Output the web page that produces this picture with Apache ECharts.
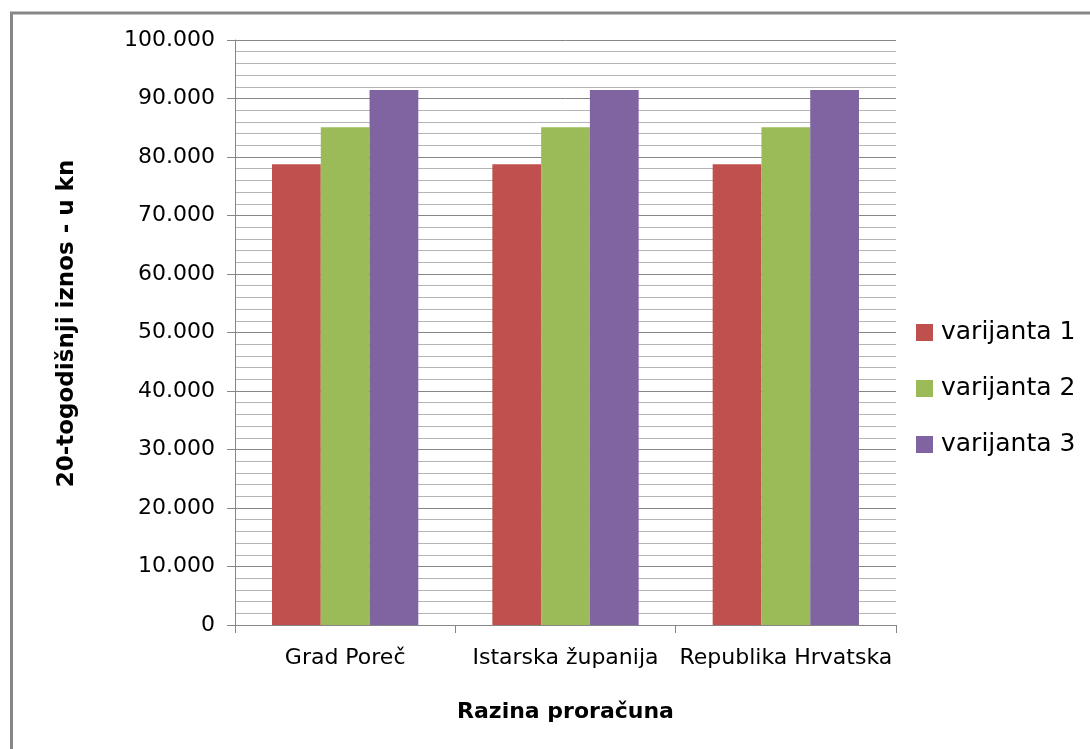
<!DOCTYPE html>
<html>
<head>
<meta charset="utf-8">
<script src="https://cdn.jsdelivr.net/npm/echarts@6/dist/echarts.min.js"></script>
<style>html,body{margin:0;padding:0;background:#fff;}#c{width:1090px;height:749px;}</style>
</head>
<body>
<div id="c"></div>
<script>
const categories = ['Grad Poreč', 'Istarska županija', 'Republika Hrvatska'];
const seriesNames = ['varijanta 1', 'varijanta 2', 'varijanta 3'];
const varijanta1 = [78750, 78750, 78750];
const varijanta2 = [85100, 85100, 85100];
const varijanta3 = [91450, 91450, 91450];
const colors = ['#C0504D', '#9BBB59', '#8064A2'];

const chart = echarts.init(document.getElementById('c'), null, {renderer: 'canvas'});
const fmt = v => v === 0 ? '0' : v.toString().replace(/\B(?=(\d{3})+(?!\d))/g, '.');
const font = 'DejaVu Sans';
chart.setOption({
  backgroundColor: '#fff',
  animation: false,
  graphic: [{
    type: 'rect', left: 9, top: 10.5,
    shape: {x: 0, y: 0, width: 1200, height: 900},
    style: {fill: 'none', stroke: '#878787', lineWidth: 3}
  }],
  grid: {left: 235, right: 194, top: 40, bottom: 124},
  legend: {
    orient: 'vertical', left: 911, top: 315,
    itemWidth: 17, itemHeight: 17, itemGap: 31,
    icon: 'rect',
    textStyle: {fontFamily: font, fontSize: 25, lineHeight: 25, color: '#000', padding: [0,0,0,3]},
    data: seriesNames
  },
  xAxis: {
    type: 'category', data: categories,
    axisLine: {lineStyle: {color: '#868686', width: 1}},
    axisTick: {show: true, interval: 0, length: 8, lineStyle: {color: '#868686'}},
    axisLabel: {interval: 0, fontFamily: font, fontSize: 22, color: '#000', margin: 22},
    name: 'Razina proračuna', nameLocation: 'middle', nameGap: 76,
    nameTextStyle: {fontFamily: font, fontWeight: 'bold', fontSize: 22, color: '#000'}
  },
  yAxis: {
    type: 'value', min: 0, max: 100000, interval: 10000,
    axisLine: {show: true, lineStyle: {color: '#868686', width: 1}},
    axisTick: {show: true, length: 8, lineStyle: {color: '#868686'}},
    minorTick: {show: false, splitNumber: 5},
    minorSplitLine: {show: true, lineStyle: {color: '#b4b4b4', width: 1}},
    splitLine: {show: true, lineStyle: {color: '#868686', width: 1}},
    axisLabel: {fontFamily: font, fontSize: 22, color: '#000', margin: 20, formatter: fmt},
    name: '20-togodišnji iznos - u kn', nameLocation: 'middle', nameGap: 156,
    nameTextStyle: {fontFamily: font, fontWeight: 'bold', fontSize: 23, color: '#000', padding: [0, 0, 0, 18]}
  },
  series: [
    {name: seriesNames[0], type: 'bar', data: varijanta1, itemStyle: {color: colors[0]}, barGap: '0%', barCategoryGap: '33.6%'},
    {name: seriesNames[1], type: 'bar', data: varijanta2, itemStyle: {color: colors[1]}, barGap: '0%', barCategoryGap: '33.6%'},
    {name: seriesNames[2], type: 'bar', data: varijanta3, itemStyle: {color: colors[2]}, barGap: '0%', barCategoryGap: '33.6%'}
  ]
});
</script>
</body>
</html>
